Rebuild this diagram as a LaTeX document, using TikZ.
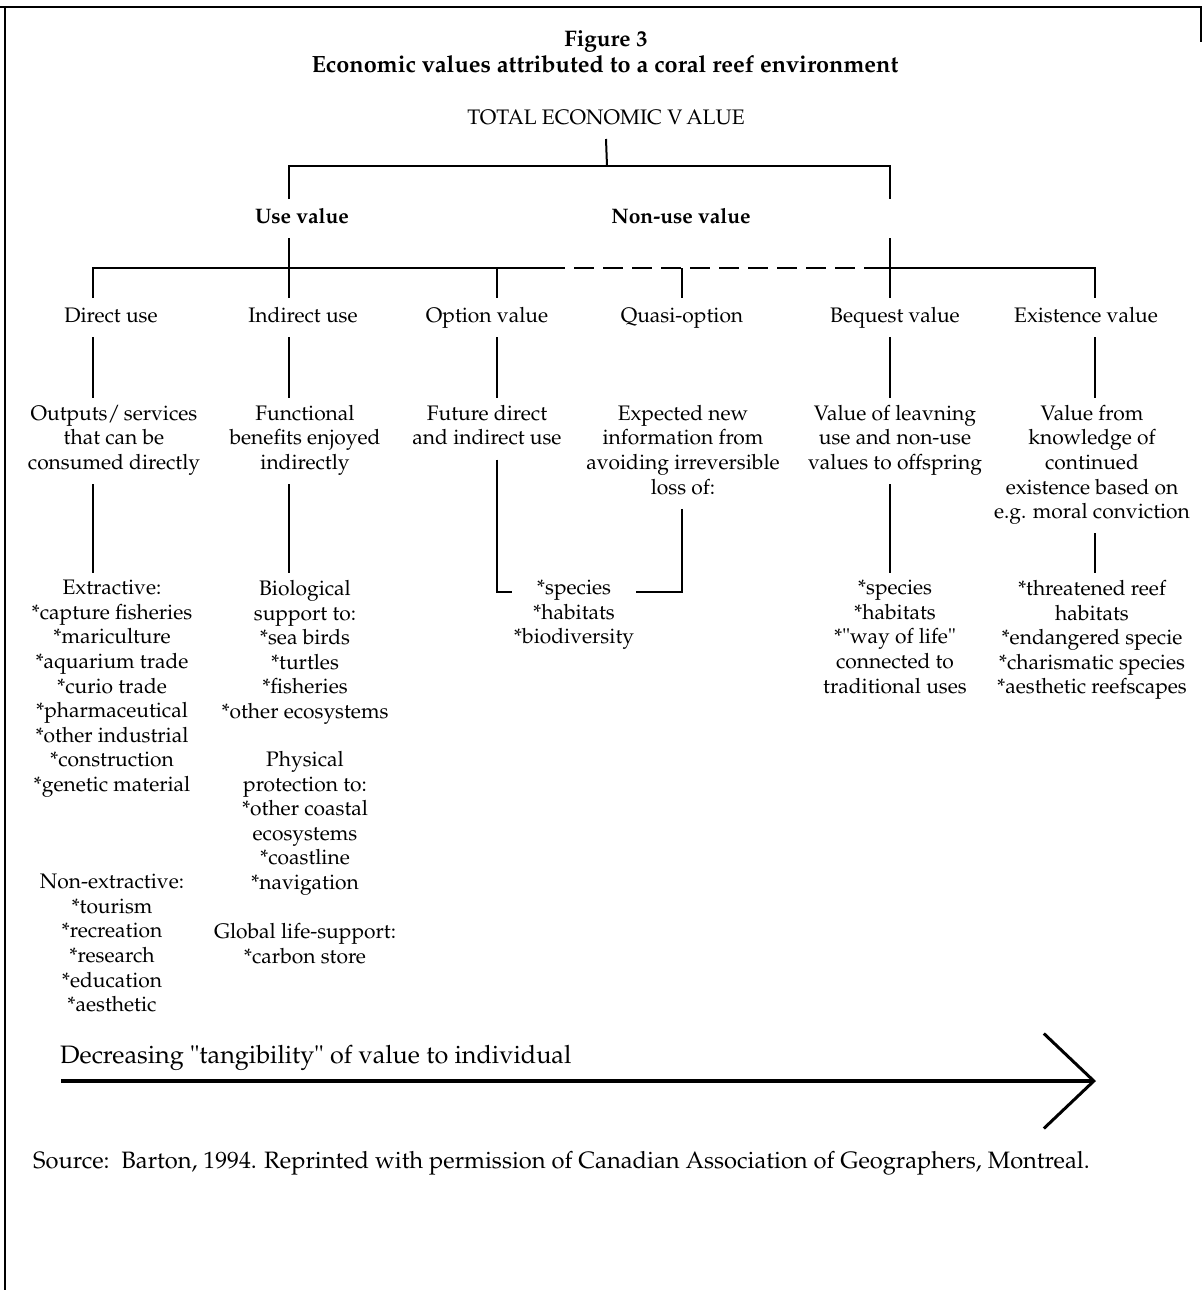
\documentclass[tikz,border=0pt]{standalone}
\usepackage[T1]{fontenc}
\usepackage{mathpazo}
\usetikzlibrary{positioning, calc, arrows.meta}

\begin{document}
\begin{tikzpicture}[x=1pt, y=-1pt,
  txt/.style={align=center, anchor=north, inner xsep=2pt, inner ysep=7pt,
    font=\fontsize{21}{24.6}\selectfont,
    execute at begin node=\strut, execute at end node=\strut},
  hd/.style={txt, font=\bfseries\fontsize{21}{24.6}\selectfont},
  tree/.style={line width=2pt},
  note/.style={anchor=base west, inner sep=0pt}]
\useasboundingbox (0,0) rectangle (1203,1290);
% frame
\draw[line width=2pt] (0,7) -- (1201,7) -- (1201,42);
\draw[line width=2pt] (5,7) -- (5,1290);
% titles
\node (fig) [note, anchor=base, font=\bfseries\fontsize{22.5}{27}\selectfont] at (606,47) {Figure 3};
\node (ttl) [note, anchor=base, font=\bfseries\fontsize{23.5}{28}\selectfont] at (605,73) {Economic values attributed to a coral reef environment};
\node (tev) [txt] at (606,100) {TOTAL ECONOMIC V\kern4pt ALUE};
\node (uv) [hd] at (302,199) {Use value};
\node (nuv) [hd] at (681,199) {Non-use value};
% value types
\node (du) [txt] at (111,298) {Direct use};
\node (iu) [txt] at (303,298) {Indirect use};
\node (ov) [txt] at (487,298) {Option value};
\node (qo) [txt] at (682,298) {Quasi-option};
\node (bq) [txt] at (895,298) {Bequest value};
\node (ex) [txt] at (1086,298) {Existence value};
% descriptions
\node (dd) [txt] at (114,398) {Outputs/\,services\\that can be\\consumed directly};
\node (id) [txt] at (305,398) {Functional\\benefits enjoyed\\indirectly};
\node (od) [txt] at (487,398) {Future direct\\and indirect use};
\node (qd) [txt] at (683,398) {Expected new\\information from\\avoiding irreversible\\loss of:};
\node (bd) [txt] at (895,398) {Value of leavning\\use and non-use\\values to offspring};
\node (ed) [txt] at (1092,398) {Value from\\knowledge of\\continued\\existence based on\\e.g. moral conviction};
% examples
\node (dx) [txt] at (112,573) {Extractive:\\*capture fisheries\\*mariculture\\*aquarium trade\\*curio trade\\*pharmaceutical\\*other industrial\\*construction\\*genetic material};
\node (dn) [txt] at (112,867) {Non-extractive:\\*tourism\\*recreation\\*research\\*education\\*aesthetic};
\node (ib) [txt] at (305,573) {Biological\\support to:\\*sea birds\\*turtles\\*fisheries\\*other ecosystems};
\node (ip) [txt] at (305,744) {Physical\\protection to:\\*other coastal\\ecosystems\\*coastline\\*navigation};
\node (ig) [txt] at (305,916) {Global life-support:\\*carbon store};
\node (sp) [txt] at (574,573) {*species\\*habitats\\*biodiversity};
\node (bs) [txt] at (895,573) {*species\\*habitats\\*\textquotedbl way of life\textquotedbl\\connected to\\traditional uses};
\node (es) [txt] at (1092,573) {*threatened reef\\habitats\\*endangered specie\\*charismatic species\\*aesthetic reefscapes};
% junctions
\coordinate (j0) at (607,166);
\coordinate (ja) at (289,166);
\coordinate (jb) at (890,166);
\coordinate (b1) at (93,268);
\coordinate (b2) at (289,268);
\coordinate (b3) at (497,268);
\coordinate (b4) at (682,268);
\coordinate (b5) at (890,268);
\coordinate (b6) at (1095,268);
\coordinate (dsa) at (545,268);
\coordinate (dsb) at (870,268);
% tree
\draw[tree] (tev.south) -- (j0);
\draw[tree] (ja |- uv.north) -- (ja) -- (jb) -- (jb |- nuv.north);
\draw[tree] (ja |- uv.south) -- (b2 |- iu.north);
\draw[tree] (jb |- nuv.south) -- (b5 |- bq.north);
\draw[tree] (b1 |- du.north) -- (b1) -- (dsa);
\draw[tree, dash pattern=on 20pt off 9pt] (dsa) -- (dsb);
\draw[tree] (dsb) -- (b6) -- (b6 |- ex.north);
\foreach \b/\n in {b3/ov, b4/qo}
  \draw[tree] (\b) -- (\b |- \n.north);
\foreach \b/\u/\l in {b1/du/dd, b2/iu/id, b3/ov/od, b5/bq/bd, b6/ex/ed}
  \draw[tree] (\b |- \u.south) -- (\b |- \l.north);
\foreach \b/\u/\l in {b1/dd/dx, b2/id/ib, b5/bd/bs, b6/ed/es}
  \draw[tree] (\b |- \u.south) -- (\b |- \l.north);
\draw[tree] (b3 |- od.south) |- ([yshift=-19pt]sp.north west);
\draw[tree] (b4 |- qd.south) |- ([yshift=-19pt]sp.north east);
% tangibility arrow
\coordinate (as) at (61,1081);
\coordinate (ae) at (1096,1081);
\node (dec) [note, font=\fontsize{25.2}{30}\selectfont] at (60,1063) {Decreasing \textquotedbl tangibility\textquotedbl{} of value to individual};
\draw[line width=4pt, -{Straight Barb[length=50pt, width=95pt, line width=3pt]}] (as) -- (ae);
\node (src) [note, font=\fontsize{23.7}{28}\selectfont] at (33,1168) {Source:\ \ Barton, 1994. Reprinted with permission of Canadian Association of Geographers, Montreal.};
\end{tikzpicture}
\end{document}
